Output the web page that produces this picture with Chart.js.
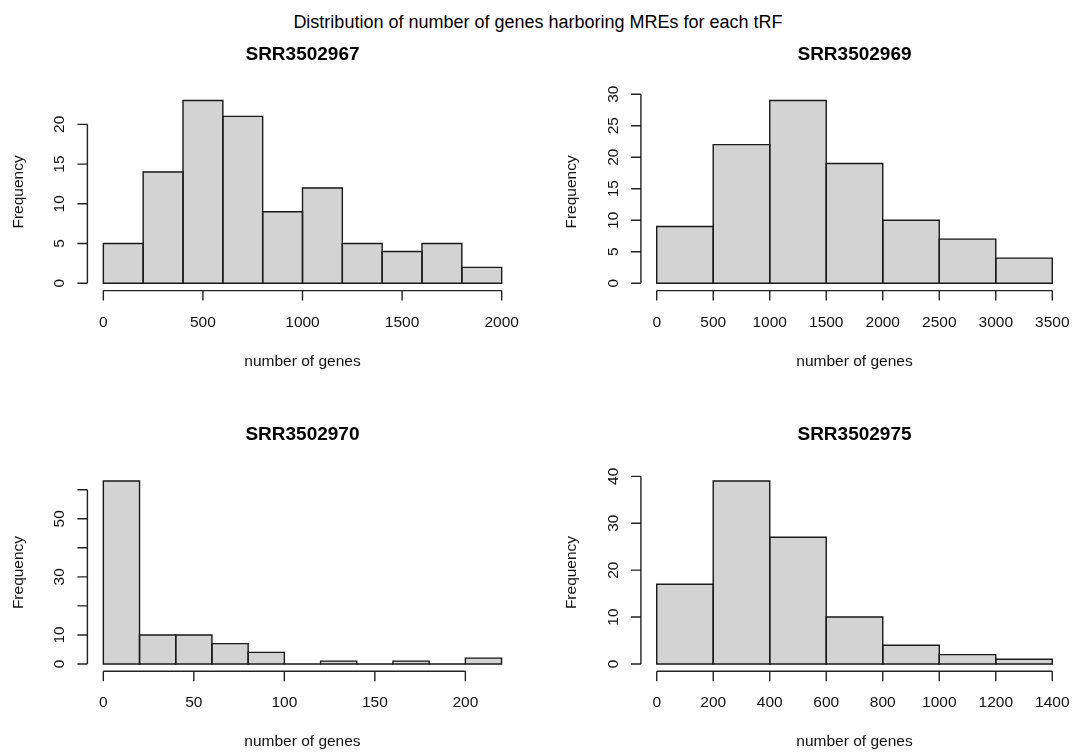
<!DOCTYPE html>
<html>
<head>
<meta charset="utf-8">
<title>Distribution of number of genes harboring MREs for each tRF</title>
<script src="https://cdn.jsdelivr.net/npm/chart.js@4.4.1/dist/chart.umd.min.js"></script>
<style>
    html, body { margin: 0; padding: 0; background: #fff; }
    #page { position: relative; width: 1076px; height: 754px; overflow: hidden; background: #fff; }
    #mainTitle {
        position: absolute; left: 0; top: 12.8px; width: 1076px;
        text-align: center; white-space: nowrap; color: #000;
        font: 18px/18px "Liberation Sans", Arial, sans-serif;
    }
    canvas { position: absolute; }
</style>
</head>
<body>
<div id="page">
    <div id="mainTitle">Distribution of number of genes harboring MREs for each tRF</div>
    <canvas id="hist1" width="538" height="377" style="left:0px;top:0px"></canvas>
    <canvas id="hist2" width="538" height="377" style="left:538px;top:0px"></canvas>
    <canvas id="hist3" width="538" height="377" style="left:0px;top:377px"></canvas>
    <canvas id="hist4" width="538" height="377" style="left:538px;top:377px"></canvas>
</div>
<script>
// SRR3502967
var breaks1 = [0, 200, 400, 600, 800, 1000, 1200, 1400, 1600, 1800, 2000];
var counts1 = [5, 14, 23, 21, 9, 12, 5, 4, 5, 2];
var xTicks1 = [0, 500, 1000, 1500, 2000];
var yTicks1 = [0, 5, 10, 15, 20];
var yLabels1 = ['0', '5', '10', '15', '20'];

// SRR3502969
var breaks2 = [0, 500, 1000, 1500, 2000, 2500, 3000, 3500];
var counts2 = [9, 22, 29, 19, 10, 7, 4];
var xTicks2 = [0, 500, 1000, 1500, 2000, 2500, 3000, 3500];
var yTicks2 = [0, 5, 10, 15, 20, 25, 30];
var yLabels2 = ['0', '5', '10', '15', '20', '25', '30'];

// SRR3502970
var breaks3 = [0, 20, 40, 60, 80, 100, 120, 140, 160, 180, 200, 220];
var counts3 = [63, 10, 10, 7, 4, 0, 1, 0, 1, 0, 2];
var xTicks3 = [0, 50, 100, 150, 200];
var yTicks3 = [0, 10, 20, 30, 40, 50, 60];
var yLabels3 = ['0', '10', '', '30', '', '50', ''];

// SRR3502975
var breaks4 = [0, 200, 400, 600, 800, 1000, 1200, 1400];
var counts4 = [17, 39, 27, 10, 4, 2, 1];
var xTicks4 = [0, 200, 400, 600, 800, 1000, 1200, 1400];
var yTicks4 = [0, 10, 20, 30, 40];
var yLabels4 = ['0', '10', '20', '30', '40'];

var titles = ['SRR3502967', 'SRR3502969', 'SRR3502970', 'SRR3502975'];

var FONT = '"Liberation Sans", Arial, sans-serif';

// R style axes, titles and bar outlines
var rStyle = {
    id: 'rStyle',
    afterDatasetsDraw: function (chart) {
        var ctx = chart.ctx;
        ctx.save();
        ctx.strokeStyle = '#1a1a1a';
        ctx.lineWidth = 1.4;
        chart.getDatasetMeta(0).data.forEach(function (bar) {
            var p = bar.getProps(['x', 'y', 'base', 'width'], true);
            var l = p.x - p.width / 2, r = p.x + p.width / 2;
            ctx.beginPath();
            ctx.moveTo(l, p.base);
            ctx.lineTo(l, p.y);
            ctx.lineTo(r, p.y);
            ctx.lineTo(r, p.base);
            ctx.closePath();
            ctx.stroke();
        });
        ctx.restore();
    },
    afterDraw: function (chart, args, opts) {
        var ctx = chart.ctx;
        var a = chart.chartArea;
        var xs = chart.scales.x;
        var ys = chart.scales.y;
        ctx.save();
        ctx.strokeStyle = '#222';
        ctx.lineWidth = 1.4;
        ctx.beginPath();
        // x axis
        ctx.moveTo(xs.getPixelForValue(opts.xTicks[0]), a.bottom);
        ctx.lineTo(xs.getPixelForValue(opts.xTicks[opts.xTicks.length - 1]), a.bottom);
        opts.xTicks.forEach(function (v) {
            var px = xs.getPixelForValue(v);
            ctx.moveTo(px, a.bottom);
            ctx.lineTo(px, a.bottom + 10);
        });
        // y axis
        ctx.moveTo(a.left, ys.getPixelForValue(opts.yTicks[0]));
        ctx.lineTo(a.left, ys.getPixelForValue(opts.yTicks[opts.yTicks.length - 1]));
        opts.yTicks.forEach(function (v) {
            var py = ys.getPixelForValue(v);
            ctx.moveTo(a.left, py);
            ctx.lineTo(a.left - 10, py);
        });
        ctx.stroke();

        ctx.fillStyle = '#111';
        ctx.textAlign = 'center';
        ctx.textBaseline = 'alphabetic';
        ctx.font = '15.5px ' + FONT;
        opts.xTicks.forEach(function (v) {
            ctx.fillText(String(v), xs.getPixelForValue(v), a.bottom + 36);
        });
        ctx.fillText('number of genes', (a.left + a.right) / 2, a.bottom + 75);

        opts.yTicks.forEach(function (v, i) {
            ctx.save();
            ctx.translate(a.left - 23, ys.getPixelForValue(v));
            ctx.rotate(-Math.PI / 2);
            ctx.fillText(opts.yLabels[i], 0, 0);
            ctx.restore();
        });
        ctx.save();
        ctx.translate(a.left - 64.5, (a.top + a.bottom) / 2);
        ctx.rotate(-Math.PI / 2);
        ctx.fillText('Frequency', 0, 0);
        ctx.restore();

        ctx.fillStyle = '#000';
        ctx.font = 'bold 19px ' + FONT;
        ctx.fillText(opts.title, (a.left + a.right) / 2, a.top - 33.5);
        ctx.restore();
    }
};

function makeHist(id, title, breaks, counts, xTicks, yTicks, yLabels, pad) {
    var points = [];
    for (let i = 0; i < counts.length; i++) {
        points.push({ x: (breaks[i] + breaks[i + 1]) / 2, y: counts[i] });
    }
    var first = breaks[0];
    var last = breaks[breaks.length - 1];
    var xExt = (last - first) * 0.04;
    var yMax = Math.max.apply(null, counts);

    const config = {
        type: 'bar',
        data: {
            datasets: [{
                label: title,
                data: points,
                backgroundColor: '#D3D3D3',
                borderWidth: 0,
                barPercentage: 1,
                categoryPercentage: 1
            }]
        },
        options: {
            responsive: false,
            animation: false,
            events: [],
            layout: { padding: pad },
            plugins: {
                legend: { display: false },
                tooltip: { enabled: false },
                rStyle: { title: title, xTicks: xTicks, yTicks: yTicks, yLabels: yLabels }
            },
            scales: {
                x: {
                    type: 'linear',
                    display: false,
                    offset: false,
                    min: first - xExt,
                    max: last + xExt,
                    grid: { offset: false },
                    afterBuildTicks: function (scale) {
                        scale.ticks = xTicks.map(function (v) { return { value: v }; });
                    }
                },
                y: {
                    type: 'linear',
                    display: false,
                    min: -yMax * 0.04,
                    max: yMax * 1.04,
                    afterBuildTicks: function (scale) {
                        scale.ticks = yTicks.map(function (v) { return { value: v }; });
                    }
                }
            }
        },
        plugins: [rStyle]
    };
    return new Chart(document.getElementById(id), config);
}

var padTopLeft = { left: 87.4, top: 93.2, right: 20.4, bottom: 86.4 };
var padTopRight = { left: 102.9, top: 93.2, right: 7.9, bottom: 86.4 };
var padBottomLeft = { left: 87.4, top: 96.7, right: 20.5, bottom: 82.7 };
var padBottomRight = { left: 102.9, top: 96.7, right: 7.9, bottom: 82.7 };

makeHist('hist1', titles[0], breaks1, counts1, xTicks1, yTicks1, yLabels1, padTopLeft);
makeHist('hist2', titles[1], breaks2, counts2, xTicks2, yTicks2, yLabels2, padTopRight);
makeHist('hist3', titles[2], breaks3, counts3, xTicks3, yTicks3, yLabels3, padBottomLeft);
makeHist('hist4', titles[3], breaks4, counts4, xTicks4, yTicks4, yLabels4, padBottomRight);
</script>
</body>
</html>
